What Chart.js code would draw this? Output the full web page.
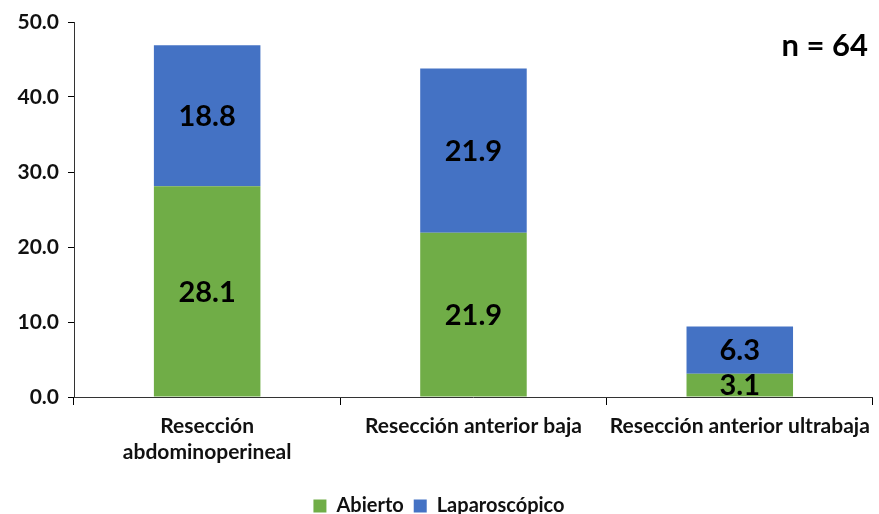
<!DOCTYPE html>
<html>
<head>
<meta charset="utf-8">
<script src="https://cdn.jsdelivr.net/npm/chart.js@4/dist/chart.umd.min.js"></script>
<style>
  html, body { margin: 0; padding: 0; background: #fff; }
  #wrap { position: relative; width: 879px; height: 514px; }
</style>
</head>
<body>
<div id="wrap"><canvas id="c" width="879" height="514"></canvas></div>
<script>
const categories = [
  ['Resección', 'abdominoperineal'],
  'Resección anterior baja',
  'Resección anterior ultrabaja'
];
const abierto = [28.1, 21.9, 3.1];
const laparoscopico = [18.8, 21.9, 6.3];
const yTicks = [0, 10, 20, 30, 40, 50];
const sampleNote = 'n = 64';

const FONT = 'Lato, "Open Sans", sans-serif';

// Writes each segment's value in its centre, plus the sample size note.
const segmentLabels = {
  id: 'segmentLabels',
  afterDatasetsDraw(chart) {
    const ctx = chart.ctx;
    ctx.save();
    ctx.fillStyle = '#000';
    ctx.textAlign = 'center';
    ctx.textBaseline = 'middle';
    ctx.font = 'bold 29px ' + FONT;
    chart.data.datasets.forEach((ds, i) => {
      const meta = chart.getDatasetMeta(i);
      meta.data.forEach((bar, j) => {
        const y = (bar.y + bar.base) / 2;
        ctx.fillText(ds.data[j].toFixed(1), bar.x, y + 1);
      });
    });
    ctx.font = 'bold 31px ' + FONT;
    ctx.textAlign = 'right';
    ctx.fillText(sampleNote, 868, 46);
    ctx.restore();
  }
};

new Chart(document.getElementById('c'), {
  type: 'bar',
  data: {
    labels: categories,
    datasets: [
      { label: 'Abierto', data: abierto, backgroundColor: '#70AD47' },
      { label: 'Laparoscópico', data: laparoscopico, backgroundColor: '#4472C4' }
    ]
  },
  options: {
    responsive: false,
    animation: false,
    barPercentage: 0.4,
    categoryPercentage: 1,
    layout: { padding: { top: 22, right: 1, left: 0, bottom: -12 } },
    scales: {
      x: {
        stacked: true,
        grid: { display: true, drawOnChartArea: false, offset: true, tickLength: 8, color: '#000' },
        border: { color: '#333', width: 1 },
        ticks: { color: '#111', font: { family: FONT, size: 21, weight: 'bold', lineHeight: 1.2 }, maxRotation: 0, padding: 9 },
        afterFit(scale) { scale.height = 89; }
      },
      y: {
        stacked: true,
        min: 0, max: 50,
        afterBuildTicks(scale) { scale.ticks = yTicks.map(v => ({ value: v })); },
        grid: { display: true, drawOnChartArea: false, tickLength: 6, color: '#000' },
        border: { color: '#333', width: 1 },
        ticks: {
          color: '#111',
          font: { family: FONT, size: 21, weight: 'bold' },
          padding: 9,
          callback: v => Number(v).toFixed(1)
        },
        afterFit(scale) { scale.width = 74; }
      }
    },
    plugins: {
      legend: {
        position: 'bottom',
        labels: {
          color: '#111',
          font: { family: FONT, size: 20, weight: 'bold' },
          boxWidth: 13, boxHeight: 13, padding: 10
        }
      },
      tooltip: { enabled: false }
    }
  },
  plugins: [segmentLabels]
});
</script>
</body>
</html>
